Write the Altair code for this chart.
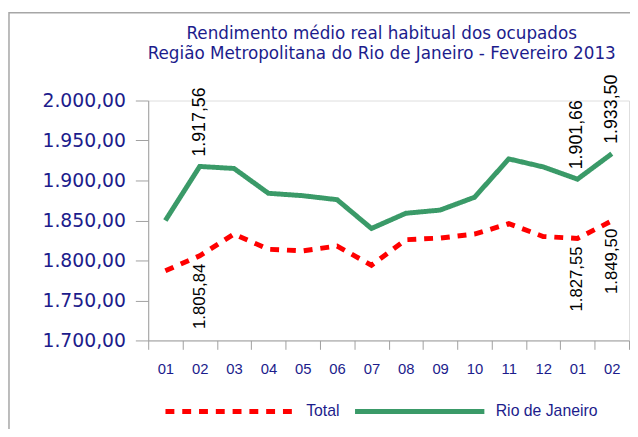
import altair as alt
import pandas as pd

# ---- data ----
years = ["2012"] * 12 + ["2013"] * 2
months = ["01", "02", "03", "04", "05", "06", "07", "08", "09", "10", "11", "12", "01", "02"]
total = [1787.0, 1805.84, 1833.0, 1814.0, 1812.0, 1818.0, 1794.0, 1826.0, 1828.0, 1833.0, 1846.0, 1830.0, 1827.55, 1849.50]
rio = [1850.0, 1917.56, 1915.0, 1884.0, 1881.0, 1876.0, 1840.0, 1859.0, 1863.0, 1879.0, 1927.0, 1917.0, 1901.66, 1933.50]
labelled = [False, True, False, False, False, False, False, False, False, False, False, False, True, True]
series_names = ["Total", "Rio de Janeiro"]
title_lines = ["Rendimento médio real habitual dos ocupados",
               "Região Metropolitana do Rio de Janeiro - Fevereiro 2013"]

rows = []
for name, vals in zip(series_names, [total, rio]):
    for y, m, v, lab in zip(years, months, vals, labelled):
        rows.append({"periodo": f"{y}-{m}", "serie": name, "valor": v, "rotulo": lab})
df = pd.DataFrame(rows)
order = [f"{y}-{m}" for y, m in zip(years, months)]

W, H = 487, 243
NAVY = "#1c1c8c"
GRAY = "#a0a0a0"

x_enc = alt.X("periodo:N", sort=order,
              scale=alt.Scale(type="band", paddingInner=0, paddingOuter=0),
              axis=alt.Axis(title=None, labelExpr="substring(datum.label, 5)",
                            tickBand="extent", labelAngle=0, tickSize=9,
                            labelPadding=12, labelFont="Liberation Sans",
                            labelFontSize=15, labelColor=NAVY,
                            domainColor=GRAY, tickColor=GRAY, grid=False))
y_enc = alt.Y("valor:Q",
              scale=alt.Scale(domain=[1700, 2000], zero=False, nice=False),
              axis=alt.Axis(title=None, values=[1700, 1750, 1800, 1850, 1900, 1950, 2000],
                            format=",.2f", tickSize=13, labelPadding=10,
                            labelFont="DejaVu Sans", labelFontSize=19, labelColor=NAVY,
                            domainColor=GRAY, tickColor=GRAY, grid=False))

base = alt.Chart(df)

frame = alt.Chart(pd.DataFrame({"k": [0]})).mark_rect(
    fill=None, stroke="#a6a6a6", strokeWidth=1.5
).encode(x=alt.value(-141), x2=alt.value(W + 60), y=alt.value(-89), y2=alt.value(H + 200))

lines = base.mark_line(strokeWidth=5, strokeCap="butt").encode(
    x=x_enc,
    y=y_enc,
    color=alt.Color("serie:N", sort=series_names,
                    scale=alt.Scale(domain=series_names, range=["#ff0000", "#3a9a68"]),
                    legend=alt.Legend(title=None, orient="none", direction="horizontal",
                                      legendX=15, legendY=247, symbolType="stroke",
                                      symbolSize=17161, symbolStrokeWidth=5,
                                      labelFont="Liberation Sans", labelFontSize=16,
                                      labelColor=NAVY, labelOffset=9, columnPadding=5,
                                      padding=0)),
    strokeDash=alt.StrokeDash("serie:N", sort=series_names,
                              scale=alt.Scale(domain=series_names, range=[[9, 8], [1, 0]]),
                              legend=None),
)

lab_rio = base.transform_filter(
    (alt.datum.serie == "Rio de Janeiro") & alt.datum.rotulo
).mark_text(angle=270, align="left", baseline="middle", dx=10,
            font="Liberation Sans", fontSize=18, color="black").encode(
    x=alt.X("periodo:N", sort=order), y="valor:Q",
    text=alt.Text("valor:Q", format=",.2f"))

lab_tot = base.transform_filter(
    (alt.datum.serie == "Total") & alt.datum.rotulo
).mark_text(angle=270, align="right", baseline="middle", dx=-8,
            font="Liberation Sans", fontSize=17, color="black").encode(
    x=alt.X("periodo:N", sort=order), y="valor:Q",
    text=alt.Text("valor:Q", format=",.2f"))

chart = alt.layer(frame, lines, lab_rio, lab_tot).properties(
    width=W, height=H,
    title=alt.TitleParams(title_lines, anchor="middle", dx=-7, dy=52, offset=0,
                          font="DejaVu Sans", fontSize=17, fontWeight="normal",
                          color=NAVY, lineHeight=21),
    autosize=alt.AutoSizeParams(type="none"),
    padding={"left": 142, "top": 91, "right": 1, "bottom": 87},
).configure_view(stroke=None).configure(
    locale=alt.Locale(number=alt.NumberLocale(decimal=",", thousands=".",
                                              grouping=[3], currency=["R$", ""]))
)

chart.save("out.html", embed_options={"renderer": "svg", "actions": False})
